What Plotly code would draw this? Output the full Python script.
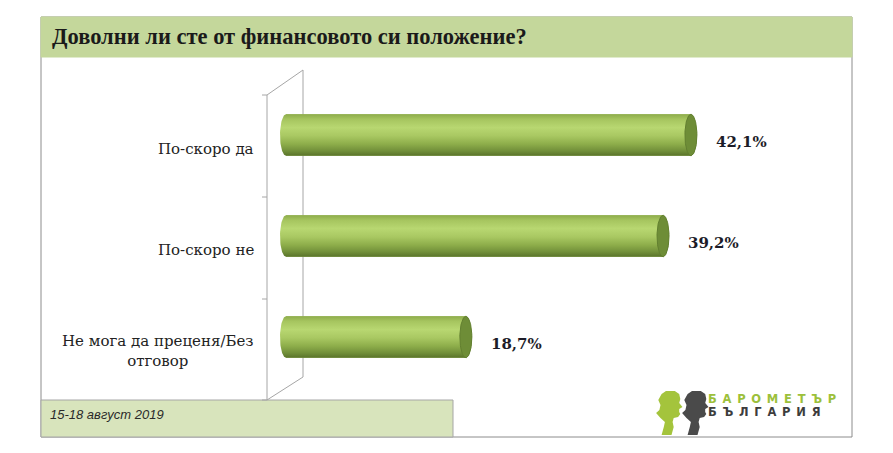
import numpy as np
import plotly.graph_objects as go

# ---------------- data ----------------
categories = ["По-скоро да", "По-скоро не", "Не мога да преценя/Без<br>отговор"]
values = [42.1, 39.2, 18.7]
title_text = "Доволни ли сте от финансовото си положение?"
footer_text = "15-18 август 2019"
logo_top = "БАРОМЕТЪР"
logo_bottom = "БЪЛГАРИЯ"

W, H = 893, 453


def px(x):
    return x / W


def py(y):
    return 1 - y / H


# plot-area geometry
ZERO_PX = 286
UNIT_X = 9.618                    # px per data unit
X0_PX, X1_PX = 270, 815
XMIN = -(ZERO_PX - X0_PX) / UNIT_X
XMAX = (X1_PX - ZERO_PX) / UNIT_X
Y_TOP_PX, Y_BOT_PX = 74.4, 397.6
YR = [2.6, -0.6]
HALF = 0.205                      # half bar thickness (y units)
RX = 6.0 / UNIT_X                 # ellipse x-radius (data units)

positions = list(range(len(values)))

fig = go.Figure()

# base bars (covered by the cylinder rendering)
fig.add_trace(go.Bar(
    x=values, y=positions, orientation="h", width=2 * HALF,
    marker=dict(color="#9cbc57", line=dict(width=0)),
    hoverinfo="skip", showlegend=False,
))

scale = [
    [0.0, "#8eac4c"], [0.12, "#a6c55f"], [0.32, "#b8d771"], [0.52, "#a9c862"],
    [0.72, "#8dad4a"], [0.88, "#72903a"], [1.0, "#5a742b"],
]

t_right = np.linspace(-np.pi / 2, np.pi / 2, 40)
t_left = np.linspace(np.pi / 2, 3 * np.pi / 2, 40)
t_full = np.linspace(0, 2 * np.pi, 80)

for k, v in zip(positions, values):
    xs = np.concatenate([v + RX * np.cos(t_right), 0 + RX * np.cos(t_left)])
    ys = np.concatenate([k + HALF * np.sin(t_right), k + HALF * np.sin(t_left)])
    fig.add_trace(go.Scatter(
        x=xs, y=ys, mode="lines", fill="toself", line=dict(width=0, color="rgba(0,0,0,0)"),
        fillgradient=dict(type="vertical", colorscale=scale, start=k - HALF, stop=k + HALF),
        hoverinfo="skip", showlegend=False,
    ))
    # right end cap
    fig.add_trace(go.Scatter(
        x=v + RX * np.cos(t_full), y=k + HALF * np.sin(t_full), mode="lines",
        fill="toself", fillcolor="#6e8d37", line=dict(width=1, color="#627f30"),
        hoverinfo="skip", showlegend=False,
    ))

annotations = []
for k, v, c in zip(positions, values, categories):
    annotations.append(dict(
        x=v, y=k, xref="x", yref="y", xanchor="left", yanchor="middle",
        xshift=23, yshift=-7, showarrow=False,
        text=f"{v:.1f}".replace(".", ",") + "%",
        font=dict(family="DejaVu Serif", size=15, color="#1c1c28", weight="bold"),
    ))
    annotations.append(dict(
        x=px(256), y=k, xref="paper", yref="y", xanchor="right", yanchor="middle",
        yshift=-14, showarrow=False, align="center", text=c,
        font=dict(family="DejaVu Serif", size=15, color="#222222"),
    ))

annotations.append(dict(
    x=px(50), y=py(37), xref="paper", yref="paper", xanchor="left", yanchor="middle",
    showarrow=False, text=title_text,
    font=dict(family="Liberation Serif", size=22.5, color="#1a1a1a", weight="bold"),
))
annotations.append(dict(
    x=px(48), y=py(414), xref="paper", yref="paper", xanchor="left", yanchor="middle",
    showarrow=False, text=footer_text,
    font=dict(family="Liberation Sans", size=13, color="#2a2a2a", style="italic"),
))
sp = "\u2002"
annotations.append(dict(
    x=px(706), y=py(399), xref="paper", yref="paper", xanchor="left", yanchor="middle",
    showarrow=False, text=sp.join(logo_top),
    font=dict(family="DejaVu Sans", size=11.5, color="#9cc03a", weight="bold"),
))
annotations.append(dict(
    x=px(706), y=py(412), xref="paper", yref="paper", xanchor="left", yanchor="middle",
    showarrow=False, text=sp.join(logo_bottom),
    font=dict(family="DejaVu Sans", size=11.5, color="#3d3d3d", weight="bold"),
))

shapes = []
GREY = "#a6a6a6"


def line(x0, y0, x1, y1, color=GREY, width=1, layer="below"):
    shapes.append(dict(type="line", xref="paper", yref="paper",
                       x0=px(x0), y0=py(y0), x1=px(x1), y1=py(y1),
                       line=dict(color=color, width=width), layer=layer))


def rect(x0, y0, x1, y1, fill, lc, lw=1):
    shapes.append(dict(type="rect", xref="paper", yref="paper",
                       x0=px(x0), y0=py(y0), x1=px(x1), y1=py(y1),
                       fillcolor=fill, line=dict(color=lc, width=lw), layer="below"))


# outer frame
rect(41, 17, 852, 437, "white", "#8c8c8c", 1)
# title band
rect(41, 17, 852, 57, "#c4d79b", "#c4d79b", 1)
# footer band
rect(41, 400, 453, 437, "#d8e4bc", "#a6a6a6", 1)

# 3D axis frame
line(267, 95, 267, 400)
line(303, 70, 303, 377)
line(267, 95, 303, 70)
line(267, 400, 303, 377)
for ty in [95, 197, 299, 400]:
    line(262, ty, 267, ty)


def path_from(points):
    return "M " + " L ".join(f"{px(x):.5f},{py(y):.5f}" for x, y in points) + " Z"


head = [(10, 0), (18, 0), (22, 3), (23, 8), (22, 12), (25, 16), (22, 18), (22, 21),
        (23, 23), (21, 26), (17, 27), (16, 31), (17, 36), (15, 44), (6, 44), (8, 36),
        (9, 31), (5, 27), (1, 22), (4, 19), (5, 14), (3, 9), (6, 3)]


def head_at(ox, oy, sx=1.0):
    return [(ox + x * sx, oy + y) for x, y in head]


shapes.append(dict(type="path", xref="paper", yref="paper", path=path_from(head_at(655, 391, 1.1)),
                   fillcolor="#a4c43c", line=dict(width=0), layer="above"))
shapes.append(dict(type="path", xref="paper", yref="paper", path=path_from(head_at(681, 391, 1.1)),
                   fillcolor="#4a4a4a", line=dict(width=0), layer="above"))

fig.update_layout(
    width=W, height=H, margin=dict(l=0, r=0, t=0, b=0),
    paper_bgcolor="white", plot_bgcolor="rgba(0,0,0,0)",
    barmode="overlay", showlegend=False,
    xaxis=dict(domain=[px(X0_PX), px(X1_PX)], range=[XMIN, XMAX], visible=False, fixedrange=True),
    yaxis=dict(domain=[py(Y_BOT_PX), py(Y_TOP_PX)], range=YR, visible=False, fixedrange=True),
    annotations=annotations, shapes=shapes,
)

fig.write_html("out.html")
